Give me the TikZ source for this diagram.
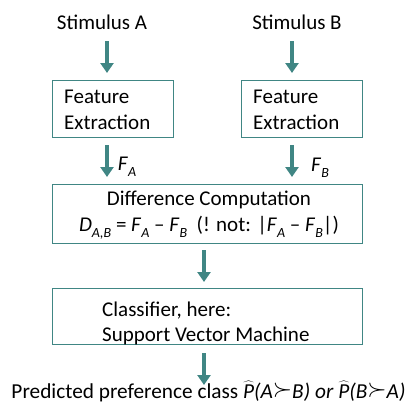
\documentclass[tikz,border=0pt]{standalone}
\usepackage{fontspec}
\setmainfont{Carlito}
\usepackage{graphicx}
\usetikzlibrary{arrows.meta}
\definecolor{teal1}{RGB}{64,134,132}
\newcommand{\sbs}[1]{\raisebox{-0.3em}{\fontsize{14}{14}\selectfont\itshape #1}}
\newcommand{\prefsym}{\raisebox{0.05em}{\scalebox{1.2}{$\succ$}}}
\newcommand{\phat}{$\widehat{\mbox{\itshape P}}$}
\begin{document}
\begin{tikzpicture}[x=1pt,y=-1pt,
  box/.style={draw=teal1,line width=1pt,inner sep=0pt},
  arr/.style={draw=teal1,line width=4pt,-{Triangle[width=13pt,length=10pt]}},
  txt/.style={font=\fontsize{21}{25.5}\selectfont,inner sep=0pt}]
\useasboundingbox (0,0) rectangle (405,405);
% texts top
\node[txt] (sa) at (102,22) {Stimulus A};
\node[txt] (sb) at (297,22) {Stimulus B};
% boxes
\node[box,minimum width=121pt,minimum height=57pt] (fa) at (112.5,108.5) {};
\node[box,minimum width=121pt,minimum height=57pt] (fb) at (301.5,108.5) {};
\node[txt,align=left,anchor=west] (fat) at (64,110) {Feature\\Extraction};
\node[txt,align=left,anchor=west] (fbt) at (253,110) {Feature\\Extraction};
\node[box,minimum width=310pt,minimum height=59pt] (dc) at (207,213.5) {};
\node[txt,align=center] (dct) at (209,215.5) {Difference Computation\\
  \textit{D}\sbs{A,B} = \textit{F}\sbs{A} – \textit{F}\sbs{B}\ \ (! not: |\textit{F}\sbs{A} – \textit{F}\sbs{B}|)};
\node[box,minimum width=310pt,minimum height=56pt] (cl) at (207,316) {};
\node[txt,align=left,anchor=west] (clt) at (102,323.5) {Classifier, here:\\Support Vector Machine};
\node[txt,anchor=base,font=\fontsize{21.3}{26}\selectfont] (out) at (208.5,398) {Predicted preference class
  \phat\textit{(A}\prefsym\textit{B) or }\phat\textit{(B}\prefsym\textit{A)}};
% arrow end points
\coordinate (a1s) at (107,41); \coordinate (a1e) at (107,73);
\coordinate (b1s) at (292,41); \coordinate (b1e) at (292,73);
\coordinate (a2s) at (107,145); \coordinate (a2e) at (107,177);
\coordinate (b2s) at (292,145); \coordinate (b2e) at (292,177);
\coordinate (c1s) at (204,250); \coordinate (c1e) at (204,282);
\coordinate (c2s) at (204,353); \coordinate (c2e) at (204,385);
\draw[arr] (a1s) -- (a1e);
\draw[arr] (b1s) -- (b1e);
\draw[arr] (a2s) -- (a2e);
\draw[arr] (b2s) -- (b2e);
\draw[arr] (c1s) -- (c1e);
\draw[arr] (c2s) -- (c2e);
\node[txt] (fal) at (127,167) {\textit{F}\sbs{A}};
\node[txt] (fbl) at (320,168) {\textit{F}\sbs{B}};
\end{tikzpicture}
\end{document}
